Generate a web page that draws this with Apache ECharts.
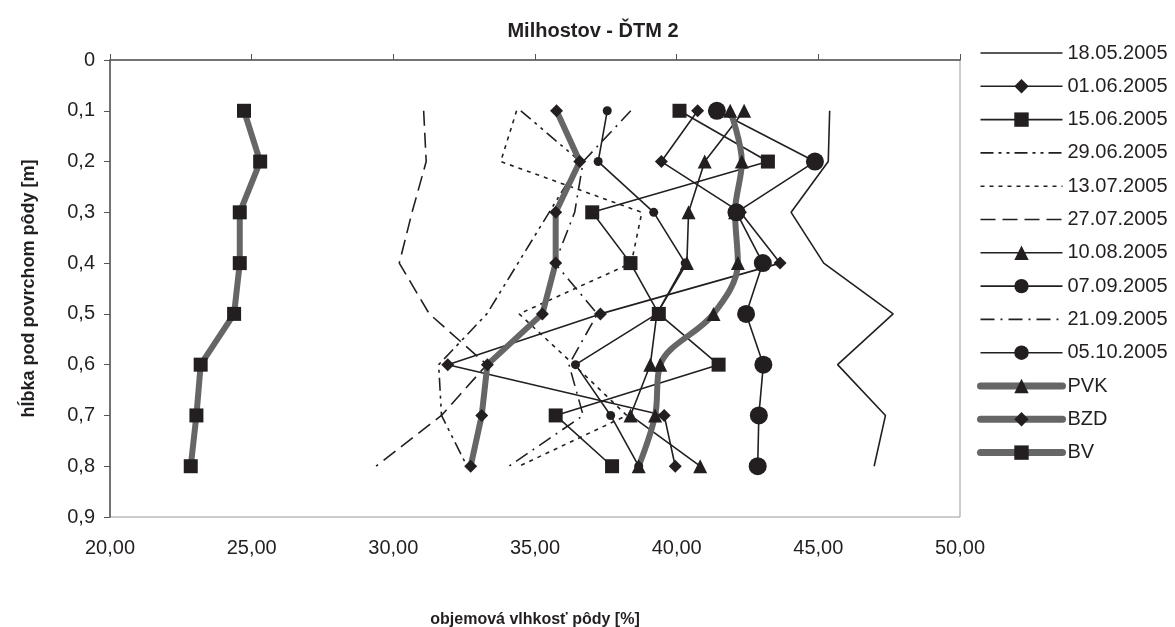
<!DOCTYPE html>
<html>
<head>
<meta charset="utf-8">
<script src="https://cdn.jsdelivr.net/npm/echarts@6/dist/echarts.min.js"></script>
<style>
  html, body { margin: 0; padding: 0; background: #fff; }
  #chart { width: 1175px; height: 627px; }
</style>
</head>
<body>
<div id="chart"></div>
<script>
// hĺbka (m) a objemová vlhkosť (%) pre každý termín merania
const depths = [0.1, 0.2, 0.3, 0.4, 0.5, 0.6, 0.7, 0.8];

const d180505 = [45.40, 45.35, 44.04, 45.19, 47.64, 45.68, 47.37, 46.97];
const d010605 = [40.74, 39.46, 42.25, 43.65, 37.31, 31.92, 39.56, 39.95];
const d150605 = [40.10, 43.22, 37.02, 38.37, 39.37, 41.48, 35.73, 37.72];
const d290605 = [34.50, 36.60, 35.50, 34.40, 33.30, 31.60, 31.70, 32.60];
const d130705 = [34.35, 33.79, 38.77, 38.40, 34.44, 36.37, 38.24, 34.44];
const d270705 = [31.07, 31.16, 30.66, 30.21, 31.27, 33.30, 31.70, 29.39];
const d100805 = [42.38, 40.99, 40.42, 40.36, 39.30, 39.07, 38.37, 40.83];
const d070905 = [37.55, 37.23, 39.19, 40.30, 39.30, 36.43, 37.67, 38.66];
const d210905 = [38.38, 36.70, 36.40, 35.70, 37.20, 36.20, 36.70, 34.08];
const d051005 = [41.42, 44.88, 42.11, 43.04, 42.45, 43.06, 42.90, 42.86];
const pvk = [41.89, 42.30, 42.06, 42.16, 41.30, 39.42, 39.24, 38.66];
const bzd = [35.76, 36.58, 35.73, 35.73, 35.26, 33.32, 33.12, 32.73];
const bv = [24.73, 25.30, 24.58, 24.58, 24.38, 23.20, 23.05, 22.85];

const xTicks = [20, 25, 30, 35, 40, 45, 50];
const yTicks = [0, 0.1, 0.2, 0.3, 0.4, 0.5, 0.6, 0.7, 0.8, 0.9];

const black = '#231f20';
const grey = '#666666';
const font = 'Liberation Sans, Arial, sans-serif';

const pairs = (vals) => vals.map((v, i) => [v, depths[i]]);

// tenká čierna čiara
const thin = (name, vals, symbol, size, dash) => ({
  name: name,
  type: 'line',
  data: pairs(vals),
  symbol: symbol || 'none',
  symbolSize: size || 0,
  showSymbol: !!symbol,
  lineStyle: { color: black, width: 1.6, type: dash || 'solid' },
  itemStyle: { color: black },
  emphasis: { disabled: true },
  animation: false
});

// hrubá sivá čiara s čiernymi značkami
const thick = (name, vals, symbol, size, smooth) => ({
  name: name,
  type: 'line',
  data: pairs(vals),
  symbol: symbol,
  symbolSize: size,
  smooth: smooth || false,
  lineStyle: { color: grey, width: 6, cap: 'round' },
  itemStyle: { color: black },
  emphasis: { disabled: true },
  animation: false
});

const series = [
  thin('18.05.2005', d180505),
  thin('01.06.2005', d010605, 'diamond', 13),
  thin('15.06.2005', d150605, 'rect', 14),
  thin('29.06.2005', d290605, null, 0, [13, 5, 3, 5, 3, 5]),
  thin('13.07.2005', d130705, null, 0, [4, 5]),
  thin('27.07.2005', d270705, null, 0, [15, 7]),
  thin('10.08.2005', d100805, 'triangle', 14),
  thin('07.09.2005', d070905, 'circle', 9),
  thin('21.09.2005', d210905, null, 0, [14, 6, 2, 6]),
  thin('05.10.2005', d051005, 'circle', 18),
  thick('PVK', pvk, 'triangle', 14, 0.35),
  thick('BZD', bzd, 'diamond', 13),
  thick('BV', bv, 'rect', 14)
];

// položky legendy: bez značky pre čiary bez bodov, hrubé sivé čiary pre priemery
const legendData = series.map((s) => {
  const item = { name: s.name };
  if (!s.showSymbol && s.lineStyle.width < 3) {
    item.itemStyle = { opacity: 0 };
  }
  if (s.lineStyle.width >= 3) {
    item.lineStyle = { width: 7, color: grey, cap: 'round' };
  } else {
    item.lineStyle = { width: 1.6 };
  }
  return item;
});

const chart = echarts.init(document.getElementById('chart'));

chart.setOption({
  backgroundColor: '#fff',
  title: {
    text: 'Milhostov - ĎTM 2',
    left: 588,
    textAlign: 'center',
    top: 16,
    textStyle: { fontFamily: font, fontSize: 20, fontWeight: 'bold', color: black }
  },
  legend: {
    orient: 'vertical',
    left: 972,
    top: 38,
    itemWidth: 82,
    itemHeight: 18,
    itemGap: 13.3,
    textStyle: { fontFamily: font, fontSize: 20, color: black },
    data: legendData
  },
  grid: {
    left: 110, top: 60, width: 850, height: 457,
    outerBoundsMode: 'none',
    containLabel: false,
    show: true, borderColor: '#9a9a9a', borderWidth: 1
  },
  xAxis: {
    type: 'value',
    min: 20, max: 50, interval: 5,
    name: 'objemová vlhkosť pôdy [%]',
    nameLocation: 'middle',
    nameGap: 95,
    nameTextStyle: { fontFamily: font, fontSize: 16, fontWeight: 'bold', color: black },
    axisLine: { lineStyle: { color: '#555', width: 1.5 } },
    axisTick: { inside: true, length: 6, lineStyle: { color: '#555' } },
    splitLine: { show: false },
    axisLabel: {
      margin: 21, fontFamily: font, fontSize: 20, color: black,
      formatter: (v) => xTicks.includes(v) ? v.toFixed(2).replace('.', ',') : ''
    }
  },
  yAxis: {
    type: 'value',
    min: 0, max: 0.9, interval: 0.1,
    inverse: true,
    name: 'hĺbka pod povrchom pôdy [m]',
    nameLocation: 'middle',
    nameGap: 72,
    nameTextStyle: { fontFamily: font, fontSize: 18, fontWeight: 'bold', color: black },
    axisLine: { lineStyle: { color: '#555', width: 1.5 } },
    axisTick: { show: true, length: 6, lineStyle: { color: '#555' } },
    splitLine: { show: false },
    axisLabel: {
      margin: 15, fontFamily: font, fontSize: 20, color: black,
      formatter: (v) => {
        const r = Math.round(v * 10) / 10;
        return yTicks.includes(r) ? (r === 0 ? '0' : r.toFixed(1).replace('.', ',')) : '';
      }
    }
  },
  series: series
});
</script>
</body>
</html>
